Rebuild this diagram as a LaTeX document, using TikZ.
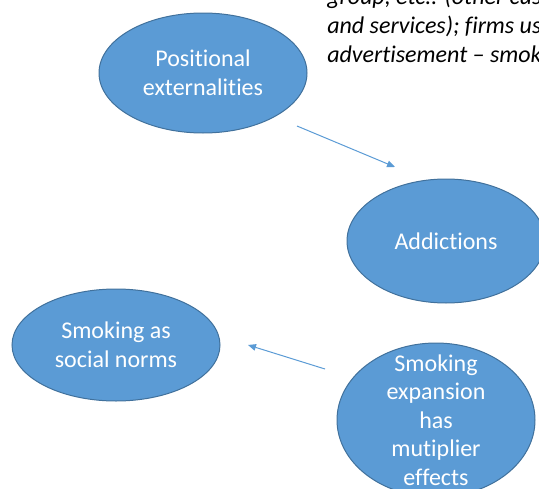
\documentclass[tikz,border=0pt]{standalone}
\usepackage{fontspec}
\setmainfont{Carlito}[Ligatures={TeX,NoCommon}]
\usetikzlibrary{shapes.geometric}
\usetikzlibrary{arrows.meta}
\definecolor{bubblue}{HTML}{5B9BD5}
\definecolor{bubedge}{HTML}{41719C}
\tikzset{
  bubble/.style={ellipse, draw=bubedge, fill=bubblue, line width=0.75pt, inner sep=0pt},
  bubtext/.style={text=white, align=center, inner sep=0pt, font=\fontsize{18}{21.4}\selectfont},
  link/.style={draw=bubblue, line width=0.75pt, -{Triangle[length=6pt,width=5pt]}}
}

\begin{document}
\begin{tikzpicture}[x=0.75pt,y=-0.75pt]
    \useasboundingbox (0,0) rectangle (539,489);
    \clip (0,0) rectangle (539,489);
    %% note, cut off at the top and right
    \node[anchor=base west, inner sep=0pt, align=left, font=\fontsize{18}{21.4}\selectfont\itshape] (note) at (327,62) {group, etc.. (other cus\\and services); firms us\\advertisement – smok};
    %% bubbles
    \node[bubble, minimum width=156pt, minimum height=90pt] (posit) at (203,73) {};
    \node[bubtext] at (posit) {Positional\\externalities};
    \node[bubble, minimum width=148.5pt, minimum height=93pt] (addict) at (446,241) {};
    \node[bubtext] at (addict) {Addictions};
    \node[bubble, minimum width=156pt, minimum height=84pt] (norms) at (116,345) {};
    \node[bubtext] at (norms) {Smoking as\\social norms};
    \node[bubble, minimum width=148.5pt, minimum height=115.5pt] (expan) at (436,420) {};
    \node[bubtext] at (expan) {Smoking\\expansion\\has\\mutiplier\\effects};
    %% arrows
    \coordinate (p1) at (297,126);
    \coordinate (q1) at (395,167);
    \draw[link] (p1) -- (q1);
    \coordinate (p2) at (325,369);
    \coordinate (q2) at (248,345);
    \draw[link] (p2) -- (q2);
\end{tikzpicture}
\end{document}
